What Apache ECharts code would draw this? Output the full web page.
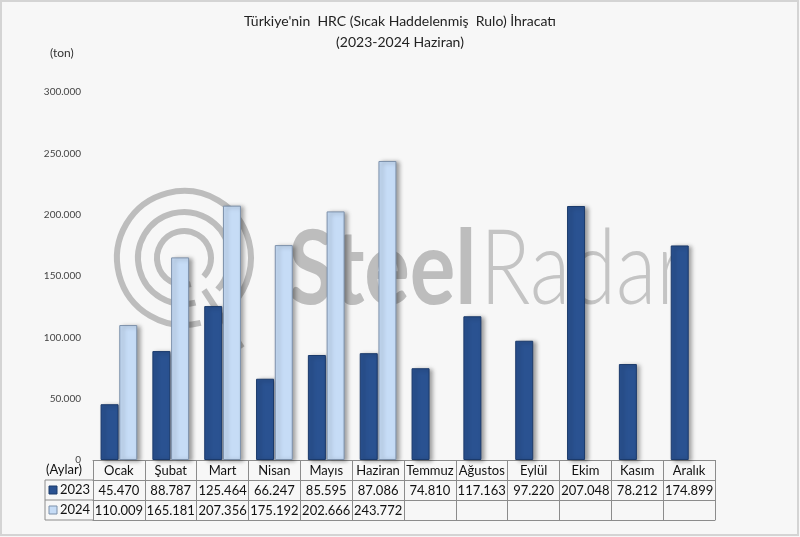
<!DOCTYPE html>
<html><head><meta charset="utf-8">
<script src="https://cdn.jsdelivr.net/npm/echarts@6/dist/echarts.min.js"></script>
<style>html,body{margin:0;padding:0;background:#f7f7f7}#c{width:800px;height:537px}</style>
</head><body><div id="c"></div>
<script>
const months = ['Ocak','Şubat','Mart','Nisan','Mayıs','Haziran','Temmuz','Ağustos','Eylül','Ekim','Kasım','Aralık'];
const values2023 = [45470, 88787, 125464, 66247, 85595, 87086, 74810, 117163, 97220, 207048, 78212, 174899];
const values2024 = [110009, 165181, 207356, 175192, 202666, 243772, null, null, null, null, null, null];
const yTicks = [0, 50000, 100000, 150000, 200000, 250000, 300000];

const FONT = 'Lato, "Open Sans", "DejaVu Sans", sans-serif';
function fmt(v){ if(v===null||v===undefined) return ''; return String(v).replace(/\B(?=(\d{3})+(?!\d))/g,'.'); }

const chart = echarts.init(document.getElementById('c'));
const lineC = '#8c8c8c';
const wm = '#bdbdbd';
function tableAxis(data, offset, showLabel){
  return {
    type:'category', data:data, position:'bottom', offset:offset, gridIndex:0,
    axisLine:{show:true, lineStyle:{color:lineC, width:1}},
    axisTick:{show:true, interval:0, length:20, lineStyle:{color:lineC, width:1}},
    axisLabel:{show:showLabel, interval:0, margin:4, fontSize:13, color:'#111', fontFamily:FONT},
    splitLine:{show:false}
  };
}
chart.setOption({
  backgroundColor:'#f7f7f7',
  animation:false,
  title:{
    text:"Türkiye'nin  HRC (Sıcak Haddelenmiş  Rulo) İhracatı\n(2023-2024 Haziran)",
    left:'center', top:6,
    textStyle:{fontSize:14, fontWeight:'normal', color:'#222', fontFamily:FONT, lineHeight:21}
  },
  grid:{left:93, right:85, top:92, bottom:77},
  xAxis:[
    tableAxis(months, 0, true),
    tableAxis(values2023.map(fmt), 20, true),
    tableAxis(values2024.map(fmt), 40, true),
    Object.assign(tableAxis(months, 60, false), {axisTick:{show:false}})
  ],
  yAxis:{
    type:'value', min:0, max:300000, interval:50000,
    axisLine:{show:false}, axisTick:{show:false}, splitLine:{show:false},
    axisLabel:{fontSize:10, color:'#444', fontFamily:FONT, margin:12, formatter:function(v){return yTicks.indexOf(v)>=0?fmt(v):'';}}
  },
  series:[
    {type:'bar', name:'2023', data:values2023, xAxisIndex:0, barWidth:18, barGap:'4%', z:3,
     itemStyle:{color:'#2a5291', borderColor:'#1b3a6b', borderWidth:1, shadowColor:'rgba(0,0,0,0.35)', shadowBlur:4, shadowOffsetX:3, shadowOffsetY:1}},
    {type:'bar', name:'2024', data:values2024, xAxisIndex:0, barWidth:18, z:3,
     itemStyle:{color:'#c6dcf6', borderColor:'#7d91ab', borderWidth:1, shadowColor:'rgba(0,0,0,0.35)', shadowBlur:4, shadowOffsetX:3, shadowOffsetY:1}}
  ],
  graphic:[
    {type:'rect', z:-10, shape:{x:1,y:1,width:797,height:534}, style:{fill:'none', stroke:'#d4d4d4', lineWidth:2}, silent:true},
    // watermark
    {type:'group', z:1, silent:true, children:[
      {type:'arc', shape:{cx:184, cy:258, r:67, startAngle:Math.PI*0.42, endAngle:Math.PI*0.24+Math.PI*2}, style:{stroke:wm, lineWidth:6, fill:null}},
      {type:'arc', shape:{cx:184, cy:258, r:46, startAngle:Math.PI*0.42, endAngle:Math.PI*0.24+Math.PI*2}, style:{stroke:wm, lineWidth:6, fill:null}},
      {type:'arc', shape:{cx:184, cy:258, r:27, startAngle:Math.PI*0.42, endAngle:Math.PI*0.24+Math.PI*2}, style:{stroke:wm, lineWidth:6, fill:null}},
      {type:'line', shape:{x1:204, y1:290, x2:242, y2:348}, style:{stroke:wm, lineWidth:6}},
      {type:'text', x:288, y:270, scaleX:0.82, style:{text:'Steel', font:'bold 104px Lato, "DejaVu Sans", sans-serif', fill:wm, textVerticalAlign:'middle'}},
      {type:'text', x:480, y:270, scaleX:0.8, style:{text:'Radar', font:'300 104px Lato, "DejaVu Sans", sans-serif', fill:'#c4c4c4', textVerticalAlign:'middle'}}
    ]},
    {type:'text', left:50, top:47, style:{text:'(ton)', font:'12px '+FONT, fill:'#333'}},
    {type:'text', left:46, top:463, style:{text:'(Aylar)', font:'13px '+FONT, fill:'#111'}},
    // left table column
    {type:'line', shape:{x1:45, y1:480, x2:93, y2:480}, style:{stroke:lineC, lineWidth:1}},
    {type:'line', shape:{x1:45, y1:500, x2:93, y2:500}, style:{stroke:lineC, lineWidth:1}},
    {type:'line', shape:{x1:45, y1:520, x2:93, y2:520}, style:{stroke:lineC, lineWidth:1}},
    {type:'line', shape:{x1:45, y1:480, x2:45, y2:520}, style:{stroke:lineC, lineWidth:1}},
    {type:'rect', shape:{x:49, y:486, width:8, height:8}, style:{fill:'#2a5291', stroke:'#1b3a6b'}},
    {type:'rect', shape:{x:49, y:506, width:8, height:8}, style:{fill:'#c6dcf6', stroke:'#7d91ab'}},
    {type:'text', left:60, top:483, style:{text:'2023', font:'13px '+FONT, fill:'#111'}},
    {type:'text', left:60, top:503, style:{text:'2024', font:'13px '+FONT, fill:'#111'}}
  ]
});
</script></body></html>
